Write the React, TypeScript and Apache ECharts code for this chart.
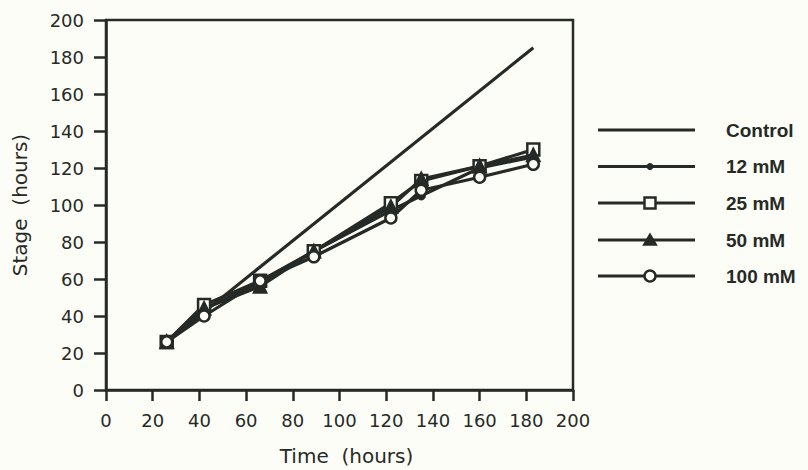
import React, { useEffect, useRef } from "react";
import * as echarts from "echarts";

const times = [26, 42, 66, 89, 122, 135, 160, 183];
const controlTimes = [26, 183];
const controlValues = [26, 185];
const mM12 = [26, 44, 58, 75, 97, 105, 120, 126];
const mM25 = [26, 46, 59, 75, 101, 113, 121, 130];
const mM50 = [26, 44, 56, 75, 99, 114, 121, 127];
const mM100 = [26, 40, 59, 72, 93, 108, 115, 122];
const seriesNames = ["Control", "12 mM", "25 mM", "50 mM", "100 mM"];

const INK = "#262a26";
const BG = "#fdfdf7";
const TICK_FONT = "DejaVu Sans";
const LEGEND_FONT = "Liberation Sans";

function pairs(xs: number[], ys: number[]) {
  return xs.map((x, i) => [x, ys[i]]);
}

function legendGraphics() {
  const rows = [130, 166.5, 203, 240, 276];
  const x1 = 598;
  const x2 = 695;
  const mx = 650;
  const out: any[] = [];
  seriesNames.forEach((name, i) => {
    const y = rows[i];
    out.push({
      type: "line",
      shape: { x1, y1: y, x2, y2: y },
      style: { stroke: INK, lineWidth: 3.2 },
      silent: true,
    });
    if (i === 1) {
      out.push({ type: "circle", shape: { cx: mx, cy: y, r: 3.5 }, style: { fill: INK }, z: 10 });
    } else if (i === 2) {
      out.push({
        type: "rect",
        shape: { x: mx - 5.5, y: y - 5.5, width: 11, height: 11 },
        style: { fill: BG, stroke: INK, lineWidth: 2.5 },
        z: 10,
      });
    } else if (i === 3) {
      out.push({
        type: "polygon",
        shape: { points: [[mx, y - 6], [mx - 6.5, y + 5], [mx + 6.5, y + 5]] },
        style: { fill: INK, stroke: INK, lineWidth: 1.5 },
        z: 10,
      });
    } else if (i === 4) {
      out.push({
        type: "circle",
        shape: { cx: mx, cy: y, r: 5.5 },
        style: { fill: BG, stroke: INK, lineWidth: 2.5 },
        z: 10,
      });
    }
    out.push({
      type: "text",
      x: 726,
      y,
      style: {
        text: name,
        fill: INK,
        font: `bold 19px "${LEGEND_FONT}"`,
        textVerticalAlign: "middle",
        textAlign: "left",
      },
    });
  });
  return out;
}

export default function App() {
  const ref = useRef<HTMLDivElement>(null);
  useEffect(() => {
    if (!ref.current) return;
    const chart = echarts.init(ref.current, null, { renderer: "svg" });
    const lineStyle = { color: INK, width: 3.2 };
    const mk = (name: string, ys: number[], symbol: string, size: number, filled: boolean) => ({
      name,
      type: "line",
      data: pairs(times, ys),
      symbol,
      symbolSize: size,
      showSymbol: true,
      lineStyle,
      itemStyle: { color: filled ? INK : BG, borderColor: INK, borderWidth: 2.5 },
      z: 3,
    });
    chart.setOption({
      animation: false,
      backgroundColor: BG,
      textStyle: { fontFamily: TICK_FONT },
      grid: {
        left: 106,
        right: 235,
        top: 20,
        bottom: 80,
        show: true,
        borderColor: INK,
        borderWidth: 2.5,
        backgroundColor: "transparent",
        containLabel: false,
        outerBoundsMode: "none",
      },
      graphic: legendGraphics(),
      xAxis: {
        type: "value",
        min: 0,
        max: 200,
        interval: 20,
        name: "Time  (hours)",
        nameLocation: "middle",
        nameGap: 56,
        nameTextStyle: { fontFamily: TICK_FONT, fontSize: 20, color: INK, padding: [0, 0, 0, 14] },
        axisLine: { show: true, onZero: false, lineStyle: { color: INK, width: 2.5 } },
        axisTick: { show: true, inside: false, length: 11, lineStyle: { color: INK, width: 2.5 } },
        axisLabel: { fontFamily: TICK_FONT, fontSize: 18, color: INK, margin: 21 },
        splitLine: { show: false },
      },
      yAxis: {
        type: "value",
        min: 0,
        max: 200,
        interval: 20,
        name: "Stage  (hours)",
        nameLocation: "middle",
        nameGap: 76,
        nameTextStyle: { fontFamily: TICK_FONT, fontSize: 20, color: INK },
        axisLine: { show: true, onZero: false, lineStyle: { color: INK, width: 2.5 } },
        axisTick: { show: true, inside: false, length: 12, lineStyle: { color: INK, width: 2.5 } },
        axisLabel: { fontFamily: TICK_FONT, fontSize: 18, color: INK, margin: 22 },
        splitLine: { show: false },
      },
      series: [
        {
          name: "Control",
          type: "line",
          data: pairs(controlTimes, controlValues),
          symbol: "none",
          lineStyle,
          itemStyle: { color: INK },
          z: 2,
        },
        mk("12 mM", mM12, "circle", 7, true),
        mk("25 mM", mM25, "rect", 12, false),
        mk("50 mM", mM50, "triangle", 12, true),
        mk("100 mM", mM100, "circle", 11, false),
      ],
    });
    return () => chart.dispose();
  }, []);
  return <div ref={ref} style={{ width: 808, height: 470, position: "absolute", left: 0, top: 0 }} />;
}
